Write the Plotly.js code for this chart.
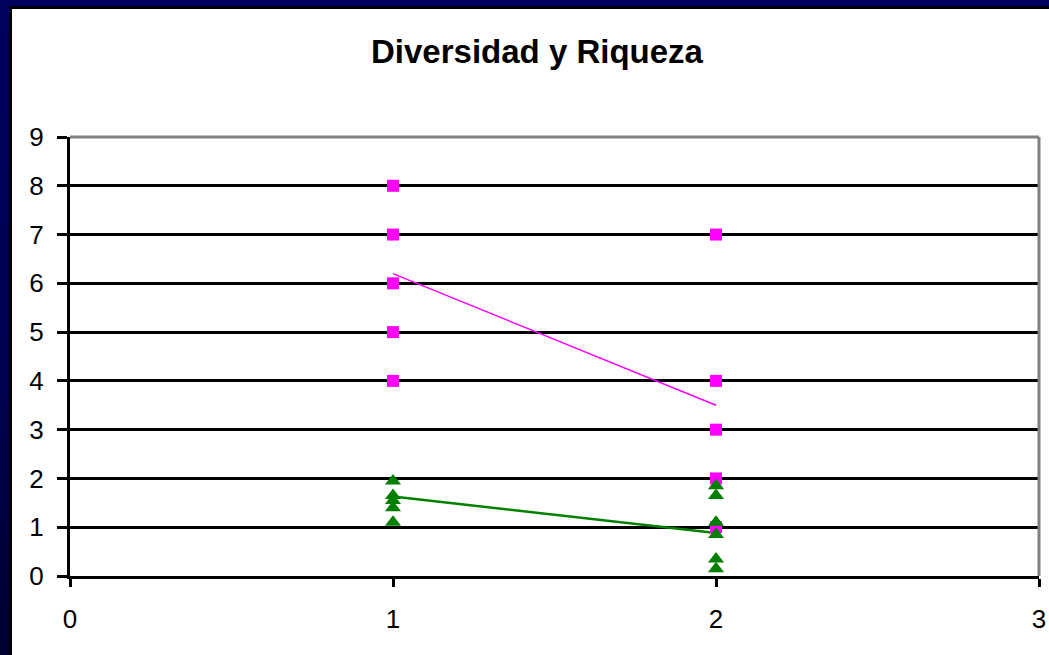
<!DOCTYPE html>
<html>
<head>
<meta charset="utf-8">
<script src="https://cdn.plot.ly/plotly-3.0.1.min.js"></script>
<style>
  html, body { margin: 0; padding: 0; width: 1049px; height: 655px; overflow: hidden;
    background: linear-gradient(to bottom, #00005e 0%, #000050 60%, #000030 100%); }
  #wrap { position: absolute; left: 9px; top: 6px; width: 1040px; height: 649px; background: #000; }
  #chart { position: absolute; left: 3px; top: 3px; width: 1037px; height: 646px; background: #fff; }
</style>
</head>
<body>
<div id="wrap"><div id="chart"></div></div>
<script>
// Riqueza (pink squares)
const riquezaX = [1, 1, 1, 1, 1, 2, 2, 2, 2, 2];
const riquezaY = [8, 7, 6, 5, 4, 7, 4, 3, 2, 1];
// Diversidad (green triangles)
const diversidadX = [1, 1, 1, 1, 1, 2, 2, 2, 2, 2, 2];
const diversidadY = [1.95, 1.65, 1.55, 1.4, 1.1, 1.85, 1.65, 1.1, 0.85, 0.35, 0.15];
// Trend lines
const trendX = [1, 2];
const trendRiqueza = [6.2, 3.5];
const trendDiversidad = [1.63, 0.88];
const xTicks = [0, 1, 2, 3];
const yTicks = [0, 1, 2, 3, 4, 5, 6, 7, 8, 9];

const data = [
  { x: trendX, y: trendRiqueza, mode: 'lines', line: { color: '#ff00ff', width: 1.5 }, hoverinfo: 'skip' },
  { x: trendX, y: trendDiversidad, mode: 'lines', line: { color: '#008000', width: 2.5 }, hoverinfo: 'skip' },
  { x: riquezaX, y: riquezaY, mode: 'markers', name: 'Riqueza',
    marker: { symbol: 'square', size: 12, color: '#ff00ff' } },
  { x: diversidadX, y: diversidadY, mode: 'markers', name: 'Diversidad',
    marker: { symbol: 'triangle-up', size: 14, color: '#008000' } }
];

const layout = {
  width: 1037, height: 646,
  paper_bgcolor: '#ffffff', plot_bgcolor: '#ffffff',
  showlegend: false,
  margin: { l: 58, r: 10, t: 128, b: 79 },
  font: { family: 'Liberation Sans, Arial, sans-serif', color: '#000' },
  title: { text: '<b>Diversidad y Riqueza</b>', font: { size: 33, color: '#000' },
    x: 525 / 1037, xanchor: 'center', xref: 'container', y: 1 - 42 / 646, yanchor: 'middle', yref: 'container' },
  xaxis: {
    range: [0, 3], tickvals: xTicks, ticktext: xTicks.map(String),
    showgrid: false, zeroline: false,
    showline: true, linecolor: '#000', linewidth: 3,
    ticks: 'outside', ticklen: 8, tickwidth: 3, tickcolor: '#000',
    tickfont: { size: 26, color: '#000' }, ticklabelstandoff: 10,
    mirror: false
  },
  yaxis: {
    range: [0, 9], tickvals: yTicks, ticktext: yTicks.map(String),
    showgrid: true, gridcolor: '#000', gridwidth: 3, zeroline: false,
    showline: true, linecolor: '#000', linewidth: 3,
    ticks: 'outside', ticklen: 10, tickwidth: 3, tickcolor: '#000',
    tickfont: { size: 26, color: '#000' }, ticklabelstandoff: 8
  },
  shapes: [
    { type: 'line', xref: 'paper', yref: 'paper', x0: 0, x1: 1, y0: 1, y1: 1, line: { color: '#808080', width: 3 } },
    { type: 'line', xref: 'paper', yref: 'paper', x0: 1, x1: 1, y0: 0, y1: 1, line: { color: '#808080', width: 3 } }
  ]
};

Plotly.newPlot('chart', data, layout, { staticPlot: true, displayModeBar: false });
</script>
</body>
</html>
